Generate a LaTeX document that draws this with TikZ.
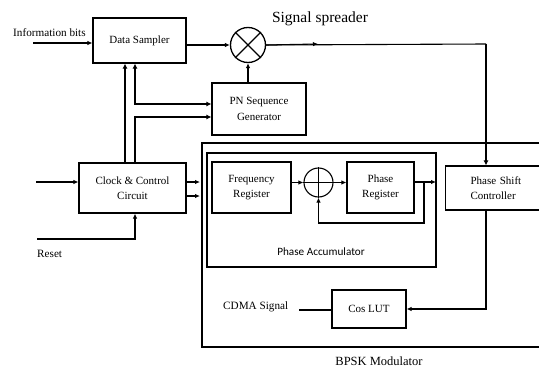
\documentclass[tikz,border=0pt]{standalone}
\usepackage{fontspec}
\setmainfont{Liberation Serif}
\newfontfamily\calib{Carlito}
\usetikzlibrary{arrows.meta}
\begin{document}
\begin{tikzpicture}[x=1pt,y=-1pt,
  blk/.style={draw,line width=1.1pt,inner sep=0pt,align=center,font=\fontsize{11}{15.5}\selectfont},
  ar/.style={line width=1.1pt,-{Latex[length=5pt,width=4.5pt]}},
  tar/.style={line width=2.2pt,-{Latex[length=5pt,width=5pt]}},
  ln/.style={line width=1.1pt},
  lbl/.style={inner sep=0pt,font=\fontsize{11.2}{13}\selectfont}]
\useasboundingbox (0,0) rectangle (539,367);
% boxes
\node[blk,minimum width=93pt,minimum height=45pt] (ds) at (139.5,40.5) {Data Sampler};
\node[blk,minimum width=94pt,minimum height=52pt] (pn) at (259,109) {PN Sequence\\Generator};
\node[blk,minimum width=107pt,minimum height=50pt] (cc) at (132.5,188) {Clock \& Control\\Circuit};
\node[draw,circle,line width=1.3pt,minimum size=35pt,inner sep=0pt] (mul) at (248,45) {};
\draw[line width=1.3pt] (mul.north east) -- (mul.south west) (mul.north west) -- (mul.south east);
% outer BPSK box
\draw[line width=1.6pt] (545,143) -- (202,143) -- (202,347) -- (545,347);
\node[draw,line width=2.4pt,minimum width=229pt,minimum height=114pt,inner sep=0pt] (pa) at (321.5,210) {};
\node[blk,minimum width=79pt,minimum height=51pt] (fr) at (251.5,187.5) {Frequency\\Register};
\node[blk,minimum width=67pt,minimum height=51pt] (pr) at (380.5,187.5) {Phase\\Register};
\node[draw,circle,line width=1.1pt,minimum size=29pt,inner sep=0pt] (add) at (318.5,182.5) {};
\draw[line width=1.1pt] (add.north) -- (add.south) (add.west) -- (add.east);
\node[blk,anchor=west,minimum width=100pt,minimum height=44pt,text width=90pt,align=left] (psc) at (445,188) {\hspace*{20pt}Phase Shift\\\hspace*{20pt}Controller};
\node[blk,minimum width=74pt,minimum height=38pt] (cos) at (369,309) {Cos LUT};
% texts
\node[lbl,anchor=west] (info) at (13,33) {Information bits};
\node[inner sep=0pt,font=\fontsize{15.5}{18}\selectfont] (ss) at (320,19) {Signal spreader};
\node[lbl,anchor=west] (rst) at (37,254) {Reset};
\node[lbl,anchor=west] (cdma) at (223,307) {CDMA Signal};
\node[inner sep=0pt,font=\fontsize{12.5}{14}\selectfont] (bpsk) at (379,361) {BPSK Modulator};
\node[inner sep=0pt,font=\calib\fontsize{11.2}{13}\selectfont] (pal) at (321,252) {Phase Accumulator};
% coordinates
\coordinate (infoin) at (33,43);
\coordinate (clkin) at (36,182);
\coordinate (rstin) at (37,239);
\coordinate (sp1) at (486,44);
\coordinate (mid) at (318,44);
\coordinate (fb) at (424,182);
\coordinate (paedge) at (436,182);
\coordinate (cdmaend) at (299,310);
% connectors
\draw[ar] (infoin) -- (infoin -| ds.west);
\draw[ar] (ds.east |- mul.west) -- (mul.west);
\draw[ar] (pn.north -| mul.south) -- (mul.south);
\draw[ln] (mul.east) -- (sp1);
\draw[ar] (mul.east) -- (mid);
\draw[tar] (sp1) -- (sp1 |- psc.north);
\draw[tar] (cc.north -| 125,0) -- (ds.south -| 125,0);
\draw[tar,{Latex[length=5pt,width=5pt]}-{Latex[length=5pt,width=5pt]}] (ds.south -| 135,0) |- (pn.west |- 0,104);
\draw[tar] (cc.north -| 135,0) |- (pn.west |- 0,117);
\draw[ar] (clkin) -- (clkin -| cc.west);
\draw[ar] (rstin) -| (cc.south -| 135,0);
\draw[ar] (cc.east |- 0,182) -- (200,182);
\draw[ar] (cc.east |- 0,196) -- (200,196);
\draw[ar] (fr.east |- add.west) -- (add.west);
\draw[ar] (add.east) -- (pr.west |- add.east);
\draw[ar] (pr.east |- fb) -- (paedge);
\draw[ar] (fb) |- (318.5,223) -- (add.south);
\draw[ar] (psc.south -| sp1) |- (cos.east);
\draw[ln] (cos.west |- cdmaend) -- (cdmaend);
\end{tikzpicture}
\end{document}
